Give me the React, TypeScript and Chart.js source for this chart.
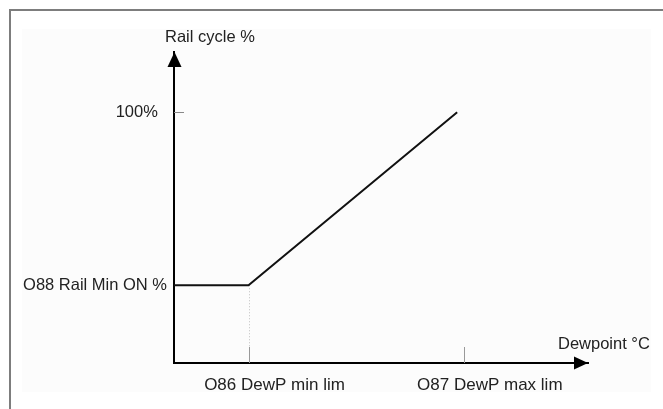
import React, { useEffect, useRef } from "react";
import { Chart, registerables } from "chart.js";

Chart.register(...registerables);

// ---- data ----
const xTickValues = [18, 70];
const xTickLabels = ["O86 DewP min lim", "O87 DewP max lim"];
const yTickValues = [31, 100];
const yTickLabels = ["O88 Rail Min ON %", "100%  "];
const curveX = [0, 18, 68.4];
const curveY = [31, 31, 100];
const xAxisTitle = "Dewpoint °C";
const yAxisTitle = "Rail cycle %";
const xMax = 100;
const yMax = 124;

const FONT = "'Liberation Sans', Arial, sans-serif";
const TEXT = "#222";

const diagramPlugin = {
  id: "diagram",
  beforeDatasetsDraw(chart: any) {
    const { ctx, chartArea, scales } = chart;
    const xs = scales.x;
    const ys = scales.y;
    ctx.save();
    // dotted guide from the knee down to the tick
    const kx = Math.round(xs.getPixelForValue(xTickValues[0])) + 0.5;
    ctx.strokeStyle = "#c0c0c0";
    ctx.lineWidth = 1;
    ctx.setLineDash([1, 2]);
    ctx.beginPath();
    ctx.moveTo(kx, ys.getPixelForValue(yTickValues[0]));
    ctx.lineTo(kx, chartArea.bottom - 16);
    ctx.stroke();
    ctx.setLineDash([]);
    // x ticks (inside)
    ctx.strokeStyle = "#999";
    xTickValues.forEach((v) => {
      const px = Math.round(xs.getPixelForValue(v)) + 0.5;
      ctx.beginPath();
      ctx.moveTo(px, chartArea.bottom - 16);
      ctx.lineTo(px, chartArea.bottom);
      ctx.stroke();
    });
    // y tick for 100%
    ctx.strokeStyle = "#888";
    const py = Math.round(ys.getPixelForValue(yTickValues[1])) + 0.5;
    ctx.beginPath();
    ctx.moveTo(chartArea.left, py);
    ctx.lineTo(chartArea.left + 10, py);
    ctx.stroke();
    ctx.restore();
  },
  afterDraw(chart: any) {
    const { ctx, chartArea } = chart;
    const { left, right, top, bottom } = chartArea;
    ctx.save();
    ctx.fillStyle = "#000";
    // y arrow
    ctx.beginPath();
    ctx.moveTo(left + 0.5, top);
    ctx.lineTo(left - 6.5, top + 15);
    ctx.lineTo(left + 7.5, top + 15);
    ctx.closePath();
    ctx.fill();
    // x arrow
    ctx.beginPath();
    ctx.moveTo(right, bottom);
    ctx.lineTo(right - 14, bottom - 6.5);
    ctx.lineTo(right - 14, bottom + 6.5);
    ctx.closePath();
    ctx.fill();
    // axis titles
    ctx.fillStyle = TEXT;
    ctx.font = `16.5px ${FONT}`;
    ctx.textBaseline = "middle";
    ctx.textAlign = "left";
    ctx.fillText(yAxisTitle, left - 9, top - 15);
    ctx.fillText(xAxisTitle, right - 30, bottom - 19);
    ctx.restore();
  },
};

export default function App() {
  const ref = useRef<HTMLCanvasElement | null>(null);
  useEffect(() => {
    if (!ref.current) return;
    const chart = new Chart(ref.current, {
      type: "line",
      data: {
        datasets: [
          {
            data: curveX.map((x, i) => ({ x, y: curveY[i] })),
            borderColor: "#111",
            borderWidth: 2,
            pointRadius: 0,
            tension: 0,
            fill: false,
          },
        ],
      },
      options: {
        responsive: false,
        animation: false,
        events: [],
        layout: { padding: { left: 0, top: 52, right: 75, bottom: 0 } },
        plugins: {
          legend: { display: false },
          tooltip: { enabled: false },
          title: { display: false },
        },
        scales: {
          x: {
            type: "linear",
            min: 0,
            max: xMax,
            grid: { display: false, drawTicks: false },
            border: { display: true, color: "#000", width: 2 },
            afterBuildTicks: (s: any) => {
              s.ticks = xTickValues.map((v) => ({ value: v }));
            },
            afterFit: (s: any) => {
              s.height = 46;
            },
            ticks: {
              autoSkip: false,
              maxRotation: 0,
              padding: 12,
              labelOffset: 26,
              color: TEXT,
              font: { size: 17, family: FONT },
              callback: (v: any) => xTickLabels[xTickValues.indexOf(v)] ?? "",
            },
          },
          y: {
            type: "linear",
            min: 0,
            max: yMax,
            grid: { display: false, drawTicks: false },
            border: { display: true, color: "#000", width: 2 },
            afterBuildTicks: (s: any) => {
              s.ticks = yTickValues.map((v) => ({ value: v }));
            },
            afterFit: (s: any) => {
              s.width = 174;
            },
            ticks: {
              autoSkip: false,
              padding: 7,
              color: TEXT,
              font: { size: 16.5, family: FONT },
              callback: (v: any) => yTickLabels[yTickValues.indexOf(v)] ?? "",
            },
          },
        },
      },
      plugins: [diagramPlugin],
    } as any);
    return () => chart.destroy();
  }, []);

  return (
    <div
      style={{
        position: "fixed",
        left: 0,
        top: 0,
        width: 663,
        height: 409,
        overflow: "hidden",
        background: "#fff",
      }}
    >
      <div
        style={{
          position: "absolute",
          left: 9,
          top: 9,
          width: 720,
          height: 460,
          borderLeft: "2px solid #7d7d7d",
          borderTop: "2px solid #7d7d7d",
        }}
      />
      <div
        style={{
          position: "absolute",
          left: 22,
          top: 29,
          width: 629,
          height: 363,
          background: "#fcfcfc",
        }}
      />
      <canvas
        ref={ref}
        width={663}
        height={409}
        style={{ position: "absolute", left: 0, top: 0 }}
      />
    </div>
  );
}
